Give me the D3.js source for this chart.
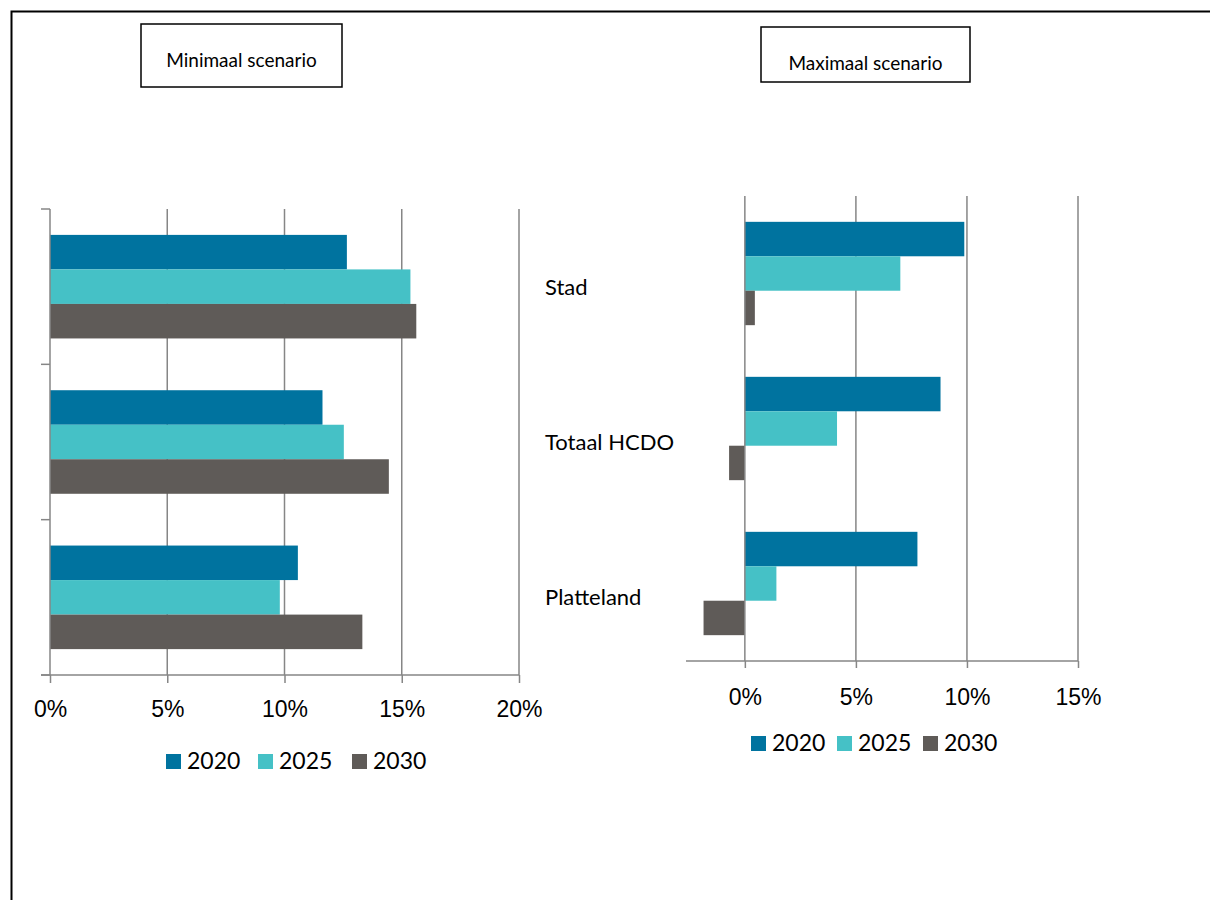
<!DOCTYPE html>
<html>
<head>
<meta charset="utf-8">
<script src="https://cdn.jsdelivr.net/npm/d3@7"></script>
<style>
  body { margin: 0; background: #fff; }
  svg { display: block; font-family: Lato, "Open Sans", sans-serif; }
</style>
</head>
<body>
<svg id="chart" width="1210" height="900"></svg>
<script>
// data
var categories = ["Stad", "Totaal HCDO", "Platteland"];
var years = ["2020", "2025", "2030"];
var colors = ["#00739f", "#45c1c6", "#5f5b58"];

var minimaal2020 = [0.1266, 0.1162, 0.1057];
var minimaal2025 = [0.1537, 0.1253, 0.0980];
var minimaal2030 = [0.1562, 0.1445, 0.1332];

var maximaal2020 = [0.0988, 0.0881, 0.0777];
var maximaal2025 = [0.0700, 0.0415, 0.0142];
var maximaal2030 = [0.0045, -0.0071, -0.0186];

var minTicks = [0, 0.05, 0.10, 0.15, 0.20];
var maxTicks = [0, 0.05, 0.10, 0.15];

var svg = d3.select('#chart');
var grid = "#868686";

// page frame
svg.append("path")
    .attr("d", "M11.5,900 V11.5 H1210")
    .attr("fill", "none").attr("stroke", "#000").attr("stroke-width", 2);

function titleBox(x, y, w, h, label, ty) {
    svg.append("rect")
        .attr("x", x).attr("y", y).attr("width", w).attr("height", h)
        .attr("fill", "#fff").attr("stroke", "#000").attr("stroke-width", 1.5);
    svg.append("text")
        .attr("x", x + w / 2).attr("y", ty)
        .attr("text-anchor", "middle").attr("font-size", 19).attr("fill", "#000")
        .text(label);
}

function drawPanel(opt) {
    var g = svg.append("g");
    var x = d3.scaleLinear().domain(opt.domain).range(opt.xrange);
    var y = d3.scaleBand().domain(categories).range(opt.yrange)
        .paddingInner(1 / 3).paddingOuter(1 / 6);
    var ys = d3.scaleBand().domain(years).range([0, y.bandwidth()]);

    // vertical gridlines
    g.selectAll(".grid").data(opt.ticks.filter(d => d !== 0)).enter()
        .append("line")
        .attr("x1", d => x(d)).attr("x2", d => x(d))
        .attr("y1", opt.yrange[0]).attr("y2", opt.yrange[1])
        .attr("stroke", grid).attr("stroke-width", 1.5);

    // bars
    var rows = [];
    categories.forEach((c, i) => {
        opt.series.forEach((s, j) => rows.push({ cat: c, year: years[j], v: s[i], col: colors[j] }));
    });
    g.selectAll(".bar").data(rows).enter()
        .append("rect")
        .attr("x", d => x(Math.min(0, d.v)))
        .attr("width", d => Math.abs(x(d.v) - x(0)))
        .attr("y", d => y(d.cat) + ys(d.year))
        .attr("height", ys.bandwidth())
        .attr("fill", d => d.col);

    // value axis
    var axis = d3.axisBottom(x)
        .tickValues(opt.ticks)
        .tickFormat(d3.format(".0%"))
        .tickSizeInner(opt.tickLen)
        .tickSizeOuter(0)
        .tickPadding(opt.pad);
    var ax = g.append("g")
        .attr("transform", "translate(0," + opt.yrange[1] + ")")
        .call(axis);
    ax.select(".domain").remove();
    ax.selectAll(".tick line").attr("stroke", grid).attr("stroke-width", 1.5);
    ax.selectAll(".tick text").attr("font-size", 23).attr("fill", "#000").attr("font-family", null);
    g.append("line")
        .attr("x1", opt.axisStart).attr("x2", x(opt.domain[1]))
        .attr("y1", opt.yrange[1]).attr("y2", opt.yrange[1])
        .attr("stroke", grid).attr("stroke-width", 1.5);

    // category axis at 0
    g.append("line")
        .attr("x1", x(0)).attr("x2", x(0))
        .attr("y1", opt.yrange[0]).attr("y2", opt.yrange[1])
        .attr("stroke", grid).attr("stroke-width", 1.5);
    if (opt.catTicks) {
        var edges = categories.map(c => y(c) - y.step() * y.paddingInner() / 2);
        edges.push(opt.yrange[1]);
        g.selectAll(".ctick").data(edges).enter()
            .append("line")
            .attr("x1", x(0) - 9).attr("x2", x(0))
            .attr("y1", d => d).attr("y2", d => d)
            .attr("stroke", grid).attr("stroke-width", 1.5);
    }
    if (opt.labelX) {
        g.selectAll(".cat").data(categories).enter()
            .append("text")
            .attr("x", opt.labelX)
            .attr("y", d => y(d) + y.bandwidth() / 2 + 8)
            .attr("font-size", 22).attr("fill", "#000")
            .text(d => d);
    }

    // legend
    var lg = g.selectAll(".leg").data(years).enter().append("g")
        .attr("transform", (d, i) => "translate(" + opt.legendX[i] + "," + opt.legendY + ")");
    lg.append("rect")
        .attr("x", 0).attr("y", -15).attr("width", 15).attr("height", 15)
        .attr("fill", (d, i) => colors[i]);
    lg.append("text")
        .attr("x", 21).attr("y", 0)
        .attr("font-size", 23).attr("fill", "#000")
        .text(d => d);
}

titleBox(141, 24, 201, 63, "Minimaal scenario", 67);
titleBox(761, 27, 209, 55, "Maximaal scenario", 70);

drawPanel({
    domain: [0, 0.20], xrange: [50, 519], yrange: [209, 675],
    ticks: minTicks, tickLen: 8, pad: 18, axisStart: 41,
    series: [minimaal2020, minimaal2025, minimaal2030],
    catTicks: true, labelX: 545,
    legendX: [166, 258, 352], legendY: 769
});

drawPanel({
    domain: [-0.0265, 0.15], xrange: [686, 1078], yrange: [196, 661],
    ticks: maxTicks, tickLen: 7, pad: 21, axisStart: 686,
    series: [maximaal2020, maximaal2025, maximaal2030],
    catTicks: false, labelX: null,
    legendX: [751, 837, 923], legendY: 751
});
</script>
</body>
</html>
